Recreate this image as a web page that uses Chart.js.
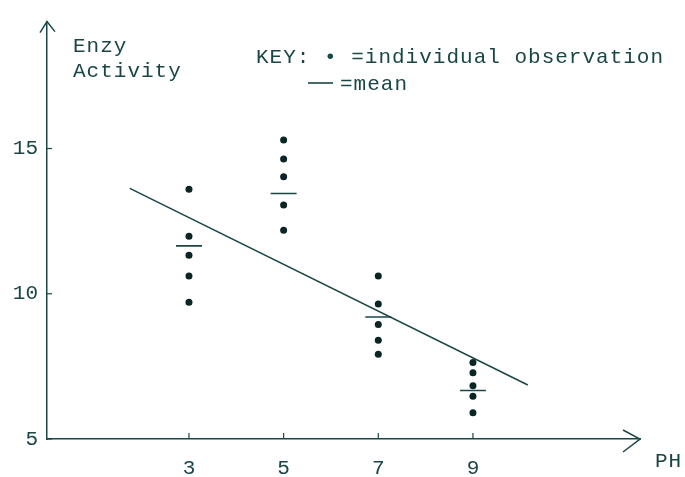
<!DOCTYPE html>
<html>
<head>
<meta charset="utf-8">
<script src="https://cdn.jsdelivr.net/npm/chart.js@4.4.0/dist/chart.umd.min.js"></script>
<style>
  html, body { margin: 0; padding: 0; background: #fff; }
  #wrap { width: 685px; height: 477px; }
</style>
</head>
<body>
<div id="wrap"><canvas id="enzChart" width="685" height="477"></canvas></div>
<script>
// values
const phLevels = [3, 5, 7, 9];
const obsPH3 = [13.6, 11.98, 11.33, 10.61, 9.71];
const obsPH5 = [15.29, 14.64, 14.03, 13.06, 12.19];
const obsPH7 = [10.61, 9.65, 8.94, 8.40, 7.92];
const obsPH9 = [7.63, 7.28, 6.83, 6.47, 5.90];
const meanValues = [11.65, 13.45, 9.2, 6.67];
const fitX = [1.75, 10.16];
const fitY = [13.63, 6.86];
const xTicks = [3, 5, 7, 9];
const yTicks = [5, 10, 15];

const inkColor = '#1a4646';
const dotColor = '#0b2424';
const monoFont = '"Liberation Mono", "DejaVu Sans Mono", monospace';

// build point lists from the arrays
const obsGroups = [obsPH3, obsPH5, obsPH7, obsPH9];
var obsPoints = [];
obsGroups.forEach(function(group, i) {
    group.forEach(function(v) {
        obsPoints.push({ x: phLevels[i], y: v });
    });
});
var meanPoints = meanValues.map(function(v, i) { return { x: phLevels[i], y: v }; });
var fitPoints = fitX.map(function(x, i) { return { x: x, y: fitY[i] }; });

// arrows, inward ticks and the text annotations
const decorPlugin = {
    id: 'decor',
    afterDraw: function(chart) {
        var ctx = chart.ctx;
        var area = chart.chartArea;
        var xs = chart.scales.x, ys = chart.scales.y;
        ctx.save();
        ctx.strokeStyle = inkColor;
        ctx.lineWidth = 1.5;

        // y-axis arrow head
        ctx.beginPath();
        ctx.moveTo(area.left - 7, area.top + 11);
        ctx.lineTo(area.left, area.top);
        ctx.lineTo(area.left + 8, area.top + 10);
        ctx.stroke();

        // x-axis arrow head
        ctx.beginPath();
        ctx.moveTo(area.right - 17, area.bottom - 9);
        ctx.lineTo(area.right, area.bottom);
        ctx.lineTo(area.right - 17, area.bottom + 13);
        ctx.stroke();

        // inward tick marks
        ctx.lineWidth = 1.2;
        xTicks.forEach(function(t) {
            var px = xs.getPixelForValue(t);
            ctx.beginPath();
            ctx.moveTo(px, area.bottom);
            ctx.lineTo(px, area.bottom - 6);
            ctx.stroke();
        });
        yTicks.forEach(function(t) {
            var py = ys.getPixelForValue(t);
            ctx.beginPath();
            ctx.moveTo(area.left, py);
            ctx.lineTo(area.left + 5, py);
            ctx.stroke();
        });

        // key: mean symbol
        ctx.lineWidth = 1.6;
        ctx.beginPath();
        ctx.moveTo(308, 83);
        ctx.lineTo(333, 83);
        ctx.stroke();

        // texts
        ctx.fillStyle = inkColor;
        ctx.font = '21px ' + monoFont;
        ctx.textBaseline = 'alphabetic';
        ctx.textAlign = 'left';
        if ('letterSpacing' in ctx) ctx.letterSpacing = '1px';
        ctx.fillText('Enzy', 73, 52);
        ctx.fillText('Activity', 73, 77);
        ctx.fillText('KEY: \u2022 =individual observation', 256, 63);
        ctx.fillText('=mean', 340, 90);
        ctx.fillText('PH', 655, 467);
        ctx.restore();
    }
};

var ctx = document.getElementById('enzChart').getContext('2d');
var enzChart = new Chart(ctx, {
    type: 'scatter',
    data: {
        datasets: [
            {
                label: 'individual observation',
                data: obsPoints,
                backgroundColor: dotColor,
                borderColor: dotColor,
                pointRadius: 3.5,
                pointBorderWidth: 0
            },
            {
                label: 'mean',
                data: meanPoints,
                pointStyle: 'line',
                pointRadius: 13,
                borderColor: inkColor,
                pointBorderWidth: 1.6
            },
            {
                label: 'fit',
                type: 'line',
                data: fitPoints,
                borderColor: inkColor,
                borderWidth: 1.5,
                pointRadius: 0,
                fill: false
            }
        ]
    },
    options: {
        responsive: false,
        animation: false,
        layout: { padding: { top: 15, right: 45, left: 0, bottom: 0 } },
        plugins: {
            legend: { display: false },
            tooltip: { enabled: false }
        },
        scales: {
            x: {
                type: 'linear',
                min: 0,
                max: 12.53,
                afterBuildTicks: function(scale) {
                    scale.ticks = xTicks.map(function(v) { return { value: v }; });
                },
                afterFit: function(scale) { scale.height = 38; },
                grid: { display: false, drawTicks: false, tickLength: 0 },
                border: { display: true, color: inkColor, width: 1.5 },
                ticks: {
                    padding: 17,
                    color: inkColor,
                    font: { family: monoFont, size: 21 },
                    maxRotation: 0
                }
            },
            y: {
                type: 'linear',
                min: 5,
                max: 19.37,
                afterBuildTicks: function(scale) {
                    scale.ticks = yTicks.map(function(v) { return { value: v }; });
                },
                afterFit: function(scale) { scale.width = 47; },
                grid: { display: false, drawTicks: false, tickLength: 0 },
                border: { display: true, color: inkColor, width: 1.5 },
                ticks: {
                    padding: 9,
                    color: inkColor,
                    font: { family: monoFont, size: 21 }
                }
            }
        }
    },
    plugins: [decorPlugin]
});
</script>
</body>
</html>
